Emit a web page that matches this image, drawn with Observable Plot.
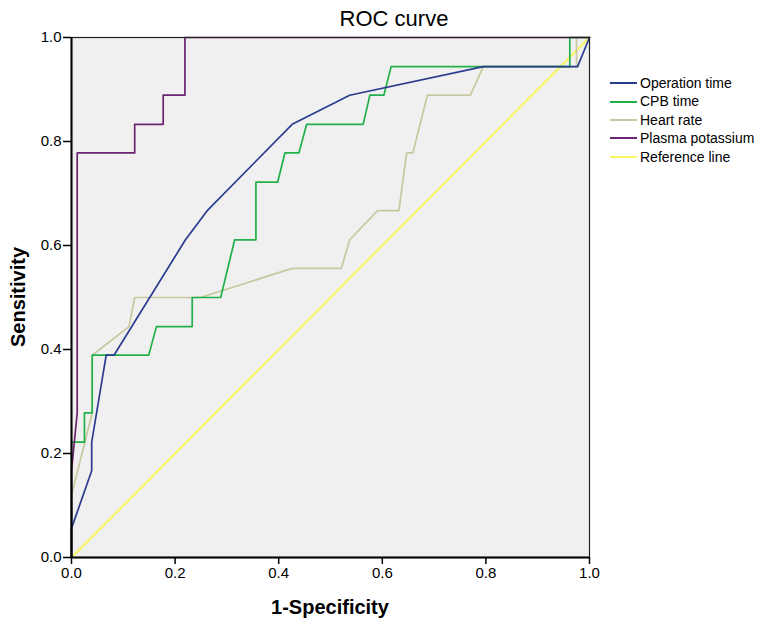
<!DOCTYPE html>
<html>
<head>
<meta charset="utf-8">
<script src="https://cdn.jsdelivr.net/npm/d3@7"></script>
<script src="https://cdn.jsdelivr.net/npm/@observablehq/plot@0.6"></script>
<style>
  body { margin: 0; background: #fff; font-family: "Liberation Sans", Arial, sans-serif; }
  #wrap { position: relative; width: 765px; height: 626px; overflow: hidden; }
  #chart { position: absolute; left: 0; top: 0; }
  .title { position: absolute; left: 294px; top: 8px; width: 200px; text-align: center; font-size: 22px; line-height: 22px; color: #000; }
  .xlab { position: absolute; left: 230px; top: 597px; width: 200px; text-align: center; font-size: 20px; line-height: 20px; font-weight: bold; color: #000; }
  .ylab { position: absolute; left: -82px; top: 286.6px; width: 200px; height: 20px; text-align: center; font-size: 20px; line-height: 20px; font-weight: bold; color: #000; transform: rotate(-90deg); }
  .legend { position: absolute; left: 610px; top: 74px; font-size: 14px; color: #000; }
  .legend .row { height: 18.4px; line-height: 18.4px; display: flex; align-items: center; white-space: nowrap; }
  .legend .sw { width: 27px; height: 2px; margin-right: 3px; }
</style>
</head>
<body>
<div id="wrap">
  <div id="chart"></div>
  <div class="title">ROC curve</div>
  <div class="xlab">1-Specificity</div>
  <div class="ylab">Sensitivity</div>
  <div class="legend" id="legend"></div>
</div>
<script>
// Series names and colours
const seriesNames = ["Operation time", "CPB time", "Heart rate", "Plasma potassium", "Reference line"];
const seriesColors = ["#2b3c8e", "#22b04a", "#c9c79f", "#6b2470", "#f5f560"];

// 1-Specificity (x) and Sensitivity (y) for each curve
const operationFpr = [0, 0, 0.039, 0.039, 0.067, 0.082, 0.220, 0.262, 0.426, 0.537, 0.795, 0.977, 1];
const operationTpr = [0, 0.056, 0.167, 0.222, 0.389, 0.389, 0.611, 0.667, 0.833, 0.889, 0.944, 0.944, 1];

const cpbFpr = [0, 0, 0.025, 0.025, 0.040, 0.040, 0.149, 0.164, 0.233, 0.233, 0.288, 0.315, 0.356, 0.356, 0.398, 0.412, 0.439, 0.454, 0.563, 0.576, 0.603, 0.617, 0.962, 0.962, 1];
const cpbTpr = [0, 0.222, 0.222, 0.278, 0.278, 0.389, 0.389, 0.444, 0.444, 0.500, 0.500, 0.611, 0.611, 0.722, 0.722, 0.778, 0.778, 0.833, 0.833, 0.889, 0.889, 0.944, 0.944, 1, 1];

const heartFpr = [0, 0, 0.040, 0.040, 0.111, 0.122, 0.249, 0.426, 0.521, 0.537, 0.591, 0.632, 0.647, 0.659, 0.687, 0.770, 0.795, 0.975, 0.975, 1];
const heartTpr = [0, 0.120, 0.278, 0.389, 0.444, 0.500, 0.500, 0.556, 0.556, 0.611, 0.667, 0.667, 0.778, 0.778, 0.889, 0.889, 0.944, 0.944, 1, 1];

const potassiumFpr = [0, 0, 0.011, 0.011, 0.122, 0.122, 0.177, 0.177, 0.219, 0.219, 1];
const potassiumTpr = [0, 0.167, 0.278, 0.778, 0.778, 0.833, 0.833, 0.889, 0.889, 1, 1];

const referenceFpr = [0, 1];
const referenceTpr = [0, 1];

const axisTicks = [0, 0.2, 0.4, 0.6, 0.8, 1.0];

const toRows = (name, xs, ys) => xs.map((x, i) => ({series: name, x, y: ys[i]}));
const curves = [
  toRows("Reference line", referenceFpr, referenceTpr),
  toRows("Heart rate", heartFpr, heartTpr),
  toRows("CPB time", cpbFpr, cpbTpr),
  toRows("Operation time", operationFpr, operationTpr),
  toRows("Plasma potassium", potassiumFpr, potassiumTpr)
];

const colorOf = Object.fromEntries(seriesNames.map((n, i) => [n, seriesColors[i]]));

const chart = Plot.plot({
  width: 765,
  height: 626,
  marginLeft: 71,
  marginRight: 176,
  marginTop: 37,
  marginBottom: 69,
  style: {fontFamily: '"Liberation Sans", Arial, sans-serif', color: "#000", background: "#fff"},
  x: {domain: [0, 1]},
  y: {domain: [0, 1]},
  marks: [
    Plot.frame({fill: "#f0f0f0", stroke: "none"}),
    ...curves.map(rows => Plot.line(rows, {x: "x", y: "y", stroke: colorOf[rows[0].series], strokeWidth: rows[0].series === "Reference line" ? 2 : 1.7, curve: "linear"})),
    Plot.frame({stroke: "#222", strokeWidth: 1.2}),
    Plot.ruleX([0], {stroke: "#000", strokeWidth: 2}),
    Plot.ruleY([0], {stroke: "#000", strokeWidth: 2}),
    Plot.axisX({ticks: axisTicks, tickFormat: d3.format(".1f"), tickSize: 7, tickPadding: 3, fontSize: 15, label: null, stroke: "#000", strokeWidth: 1.5}),
    Plot.axisY({ticks: axisTicks, tickFormat: d3.format(".1f"), tickSize: 8, tickPadding: 2, fontSize: 15, label: null, stroke: "#000", strokeWidth: 1.5})
  ]
});
document.getElementById("chart").appendChild(chart);

const legend = document.getElementById("legend");
seriesNames.forEach((n, i) => {
  const row = document.createElement("div");
  row.className = "row";
  const sw = document.createElement("span");
  sw.className = "sw";
  sw.style.background = seriesColors[i];
  const t = document.createElement("span");
  t.textContent = n;
  row.appendChild(sw);
  row.appendChild(t);
  legend.appendChild(row);
});
</script>
</body>
</html>
